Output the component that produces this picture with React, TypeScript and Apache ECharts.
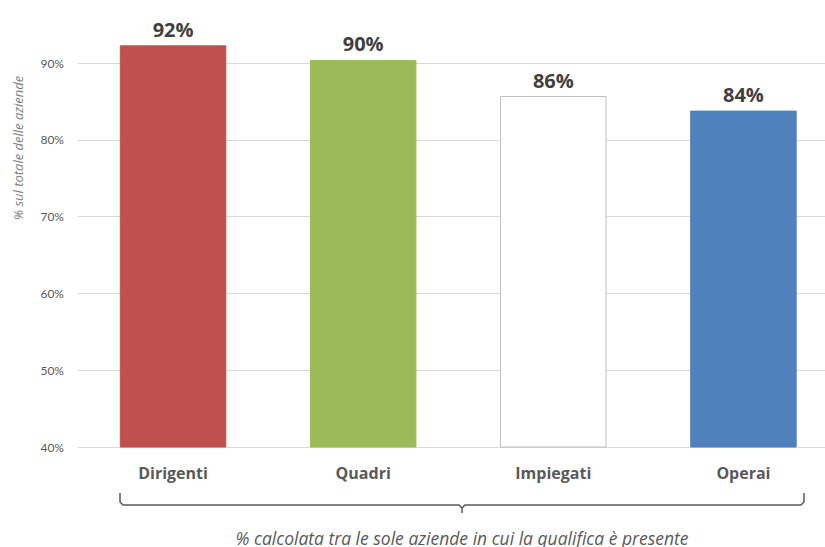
import React, { useEffect, useRef } from "react";
import * as echarts from "echarts";

const categories = ["Dirigenti", "Quadri", "Impiegati", "Operai"];
const values = [92.3, 90.4, 85.7, 83.8];
const valueLabels = ["92%", "90%", "86%", "84%"];
const barColors = ["#C0504D", "#9BBB59", "#FFFFFF", "#4F81BD"];
const barBorders = ["#C0504D", "#9BBB59", "#BFBFBF", "#4F81BD"];
const yTicks = { min: 40, max: 100, interval: 10, lastShown: 90 };
const yAxisTitle = "% sul totale delle aziende";
const footnote = "% calcolata tra le sole aziende in cui la qualifica è presente";

export default function App() {
  const ref = useRef<HTMLDivElement>(null);
  useEffect(() => {
    if (!ref.current) return;
    const chart = echarts.init(ref.current, null, { renderer: "svg" });
    const font = "'Open Sans', 'Noto Sans', sans-serif";
    chart.setOption({
      animation: false,
      backgroundColor: "#FFFFFF",
      textStyle: { fontFamily: font },
      grid: {
        left: 78,
        right: -13.5,
        top: -13.8,
        bottom: 100,
        containLabel: false,
        outerBoundsMode: "none",
      },
      xAxis: {
        type: "category",
        data: categories,
        axisLine: { show: false },
        axisTick: { show: false },
        axisLabel: {
          margin: 18,
          fontSize: 16,
          fontWeight: "bold",
          color: "#595959",
          fontFamily: font,
        },
      },
      yAxis: {
        type: "value",
        min: yTicks.min,
        max: yTicks.max,
        interval: yTicks.interval,
        axisLine: { show: false },
        axisTick: { show: false },
        splitLine: { lineStyle: { color: "#D9D9D9", width: 1 } },
        axisLabel: {
          formatter: (v: number) => (v > yTicks.lastShown ? "" : v + "%"),
          fontSize: 12,
          color: "#595959",
          margin: 14,
          fontFamily: "Lato, 'Open Sans', sans-serif",
        },
      },
      series: [
        {
          type: "bar",
          barCategoryGap: "44%",
          data: values.map((v, i) => ({
            value: v,
            itemStyle: {
              color: barColors[i],
              borderColor: barBorders[i],
              borderWidth: 1,
            },
            label: {
              show: true,
              position: "top",
              distance: 6,
              formatter: valueLabels[i],
              fontSize: 20,
              fontWeight: "bold",
              color: "#404040",
              fontFamily: font,
            },
          })),
        },
      ],
      graphic: [
        {
          type: "text",
          x: 18,
          y: 148,
          rotation: Math.PI / 2,
          style: {
            text: yAxisTitle,
            fontSize: 13,
            fontStyle: "italic",
            fill: "#7F7F7F",
            fontFamily: font,
            textAlign: "center",
            textVerticalAlign: "middle",
          },
        },
        {
          type: "polyline",
          shape: {
            points: [
              [120, 493],
              [120, 502],
              [123, 505],
              [459, 505],
              [462, 508],
              [462, 513],
              [462, 508],
              [465, 505],
              [801, 505],
              [804, 502],
              [804, 493],
            ],
          },
          style: { stroke: "#595959", lineWidth: 1.5, fill: null },
        },
        {
          type: "text",
          x: 462,
          y: 538,
          style: {
            text: footnote,
            fontSize: 17.5,
            fontStyle: "italic",
            fill: "#595959",
            fontFamily: font,
            textAlign: "center",
            textVerticalAlign: "middle",
          },
        },
      ],
    });
    return () => chart.dispose();
  }, []);
  return (
    <div
      ref={ref}
      style={{ position: "fixed", left: 0, top: 0, width: 825, height: 547, background: "#fff" }}
    />
  );
}
